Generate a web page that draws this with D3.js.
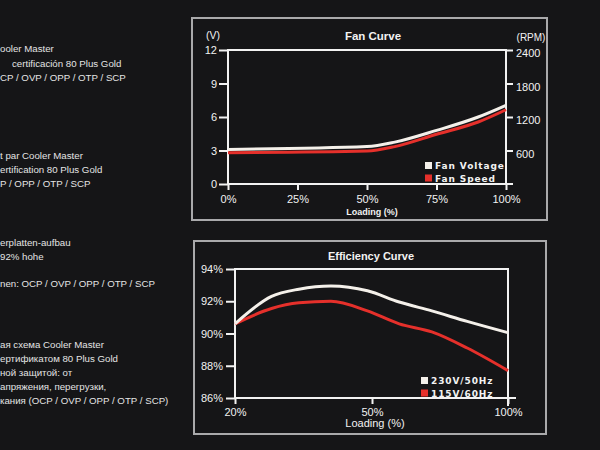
<!DOCTYPE html>
<html>
<head>
<meta charset="utf-8">
<script src="https://cdn.jsdelivr.net/npm/d3@7"></script>
<style>
  html, body { margin: 0; padding: 0; background: #151517; }
  svg { display: block; }
</style>
</head>
<body>
<svg id="chart" width="600" height="450"></svg>
<script>
// side copy printed on the box (cut by the photo's edge)
var sideText = [
  "ooler Master",
  "certificación 80 Plus Gold",
  "CP / OVP / OPP / OTP / SCP",
  "t par Cooler Master",
  "ertification 80 Plus Gold",
  "P  / OPP / OTP / SCP",
  "erplatten-aufbau",
  "92% hohe",
  "nen: OCP / OVP / OPP / OTP / SCP",
  "ая схема Cooler Master",
  "ертификатом 80 Plus Gold",
  "ной защитой: от",
  "апряжения, перегрузки,",
  "кания (OCP / OVP / OPP / OTP / SCP)"
];
var sideY = [52, 67, 81, 159, 173, 187, 246, 260, 287, 348, 362, 376, 390, 404];
var sideIndent = [0, 12, 0, 0, 0, 0, 0, 0, 0, 0, 0, 0, 0, 0];

// fan curve
var fanLoad = [0, 50, 60, 75, 90, 100];
var fanVoltage = [3.1, 3.35, 3.75, 4.8, 6.0, 7.05];
var fanSpeed = [560, 590, 670, 890, 1110, 1330];
var fanXTicks = [0, 25, 50, 75, 100];
var fanVTicks = [0, 3, 6, 9, 12];
var fanRpmTicks = [600, 1200, 1800, 2400];
var fanLegend = ["Fan Voltage", "Fan Speed"];

// efficiency curve
var effLoad = [20, 28, 34, 41, 49, 60, 72, 85, 100];
var eff230 = [90.6, 92.3, 92.75, 92.95, 92.65, 91.95, 91.4, 90.75, 90.05];
var eff115 = [90.6, 91.55, 91.9, 92.0, 91.4, 90.6, 90.1, 89.1, 87.7];
var effXTicks = [20, 50, 100];
var effYTicks = [86, 88, 90, 92, 94];
var effLegend = ["230V/50Hz", "115V/60Hz"];

var WHITE = "#f4f0ea", RED = "#e5302b", AXIS = "#f2f2f2", FRAME = "#a9a9ab";
var FONT = "'Liberation Sans', Arial, sans-serif";

var svg = d3.select("#chart");

svg.append("rect").attr("width", 600).attr("height", 450).attr("fill", "#151517");

// left column text
svg.append("g")
  .attr("font-family", FONT)
  .attr("font-size", 9.7)
  .attr("fill", "#e4e4e4")
  .selectAll("text")
  .data(sideText)
  .join("text")
  .attr("x", function(d, i) { return sideIndent[i]; })
  .attr("y", function(d, i) { return sideY[i]; })
  .text(function(d) { return d; });

function frame(x0, y0, x1, y1) {
  svg.append("rect")
    .attr("x", x0).attr("y", y0)
    .attr("width", x1 - x0).attr("height", y1 - y0)
    .attr("fill", "none")
    .attr("stroke", FRAME)
    .attr("stroke-width", 2);
}

function styleAxis(g, size) {
  g.select(".domain").remove();
  g.selectAll(".tick line").attr("stroke", AXIS).attr("stroke-width", 2);
  g.selectAll(".tick text")
    .attr("font-family", FONT)
    .attr("font-size", size)
    .attr("fill", AXIS);
}

function legend(items, colors, x, y) {
  var g = svg.append("g");
  items.forEach(function(name, i) {
    g.append("rect")
      .attr("x", x).attr("y", y + i * 12.5)
      .attr("width", 7).attr("height", 7)
      .attr("fill", colors[i]);
    g.append("text")
      .attr("x", x + 10).attr("y", y + 7 + i * 12.5)
      .attr("font-family", "'DejaVu Sans', sans-serif")
      .attr("font-weight", "bold")
      .attr("font-size", 9)
      .attr("letter-spacing", 0.9)
      .attr("fill", AXIS)
      .text(name);
  });
}

/*
  Fan curve
*/
(function() {
  frame(192, 18, 547, 220);

  var x = d3.scaleLinear().domain([0, 100]).range([228, 506]);
  var yV = d3.scaleLinear().domain([0, 12]).range([184, 50]);
  var yR = d3.scaleLinear().domain([0, 2400]).range([184, 50]);

  svg.append("text")
    .attr("x", 373).attr("y", 40)
    .attr("text-anchor", "middle")
    .attr("font-family", FONT).attr("font-weight", "bold").attr("font-size", 11.5)
    .attr("fill", AXIS).text("Fan Curve");
  svg.append("text")
    .attr("x", 213).attr("y", 39)
    .attr("text-anchor", "middle")
    .attr("font-family", FONT).attr("font-size", 10.5)
    .attr("fill", AXIS).text("(V)");
  svg.append("text")
    .attr("x", 531).attr("y", 41)
    .attr("text-anchor", "middle")
    .attr("font-family", FONT).attr("font-size", 10)
    .attr("fill", AXIS).text("(RPM)");

  // plot frame, with the base running a little past the right axis
  svg.append("rect")
    .attr("x", x(0)).attr("y", yV(12))
    .attr("width", x(100) - x(0)).attr("height", yV(0) - yV(12))
    .attr("fill", "none").attr("stroke", AXIS).attr("stroke-width", 2);
  svg.append("line")
    .attr("x1", x(100)).attr("x2", x(100) + 7)
    .attr("y1", yV(0)).attr("y2", yV(0))
    .attr("stroke", AXIS).attr("stroke-width", 2);

  svg.append("g").attr("transform", "translate(" + x(0) + ",0)")
    .call(d3.axisLeft(yV).tickValues(fanVTicks).tickSize(9).tickPadding(2))
    .call(styleAxis, 11);
  var rightAxis = svg.append("g").attr("transform", "translate(" + x(100) + ",0)")
    .call(d3.axisRight(yR).tickValues(fanRpmTicks).tickSize(7).tickPadding(3)
      .tickFormat(d3.format("d")))
    .call(styleAxis, 11);
  rightAxis.selectAll(".tick text").attr("dy", "0.6em");
  svg.append("g").attr("transform", "translate(0," + yV(0) + ")")
    .call(d3.axisBottom(x).tickValues(fanXTicks).tickSize(6).tickPadding(5)
      .tickFormat(function(d) { return d + "%"; }))
    .call(styleAxis, 11);

  svg.append("text")
    .attr("x", 372).attr("y", 215)
    .attr("text-anchor", "middle")
    .attr("font-family", FONT).attr("font-weight", "bold").attr("font-size", 9)
    .attr("fill", AXIS).text("Loading (%)");

  var lineV = d3.line()
    .x(function(d, i) { return x(fanLoad[i]); })
    .y(function(d) { return yV(d); })
    .curve(d3.curveMonotoneX);
  var lineR = d3.line()
    .x(function(d, i) { return x(fanLoad[i]); })
    .y(function(d) { return yR(d); })
    .curve(d3.curveMonotoneX);

  svg.append("path").datum(fanSpeed).attr("d", lineR)
    .attr("fill", "none").attr("stroke", RED).attr("stroke-width", 3);
  svg.append("path").datum(fanVoltage).attr("d", lineV)
    .attr("fill", "none").attr("stroke", WHITE).attr("stroke-width", 3);

  legend(fanLegend, [WHITE, RED], 425, 162);
})();

/*
  Efficiency curve
*/
(function() {
  frame(194, 241, 546, 434);

  var x = d3.scaleLinear().domain([20, 50, 100]).range([235, 372, 508]);
  var y = d3.scaleLinear().domain([86, 94]).range([398, 269]);

  svg.append("text")
    .attr("x", 371).attr("y", 260)
    .attr("text-anchor", "middle")
    .attr("font-family", FONT).attr("font-weight", "bold").attr("font-size", 11)
    .attr("fill", AXIS).text("Efficiency Curve");

  // frame lines: left, top, right (runs past the base), base
  var frameLines = [
    [x(20), y(94), x(20), y(86)],
    [x(20), y(94), x(100), y(94)],
    [x(100), y(94), x(100), y(86) + 7],
    [x(20), y(86), x(100) + 7, y(86)]
  ];
  svg.append("g").selectAll("line")
    .data(frameLines)
    .join("line")
    .attr("x1", function(d) { return d[0]; })
    .attr("y1", function(d) { return d[1]; })
    .attr("x2", function(d) { return d[2]; })
    .attr("y2", function(d) { return d[3]; })
    .attr("stroke", AXIS).attr("stroke-width", 2).attr("stroke-linecap", "square");

  svg.append("g").attr("transform", "translate(" + x(20) + ",0)")
    .call(d3.axisLeft(y).tickValues(effYTicks).tickSize(9).tickPadding(3)
      .tickFormat(function(d) { return d + "%"; }))
    .call(styleAxis, 11);
  svg.append("g").attr("transform", "translate(0," + y(86) + ")")
    .call(d3.axisBottom(x).tickValues(effXTicks).tickSize(6).tickPadding(4)
      .tickFormat(function(d) { return d + "%"; }))
    .call(styleAxis, 11);

  svg.append("text")
    .attr("x", 375).attr("y", 427)
    .attr("text-anchor", "middle")
    .attr("font-family", FONT).attr("font-size", 11)
    .attr("fill", AXIS).text("Loading (%)");

  var line = d3.line()
    .x(function(d, i) { return x(effLoad[i]); })
    .y(function(d) { return y(d); })
    .curve(d3.curveMonotoneX);

  svg.append("path").datum(eff115).attr("d", line)
    .attr("fill", "none").attr("stroke", RED).attr("stroke-width", 3);
  svg.append("path").datum(eff230).attr("d", line)
    .attr("fill", "none").attr("stroke", WHITE).attr("stroke-width", 3);

  legend(effLegend, [WHITE, RED], 421, 377);
})();
</script>
</body>
</html>
